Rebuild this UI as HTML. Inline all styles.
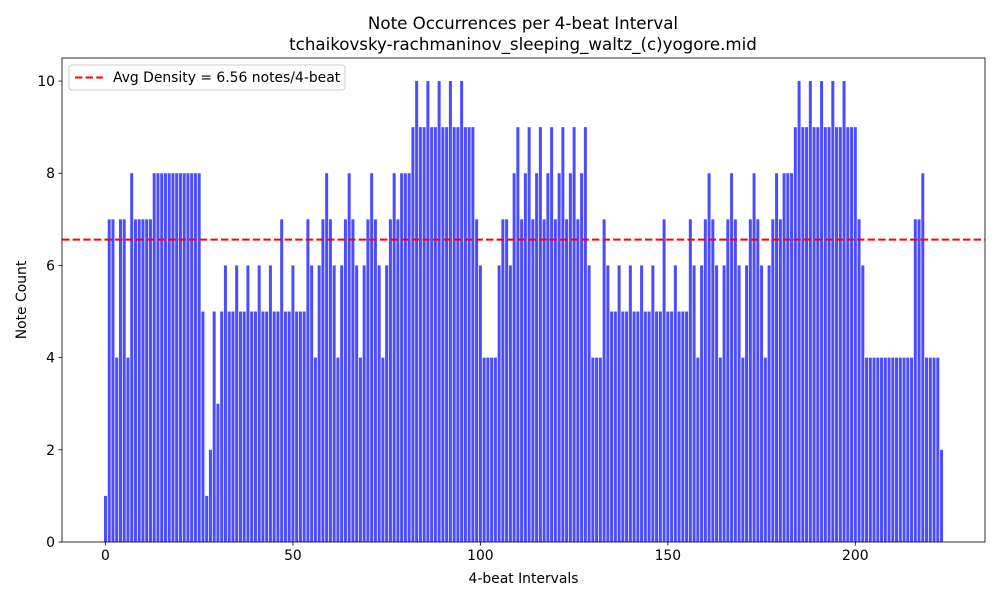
<!DOCTYPE html>
<html><head><meta charset="utf-8"><style>
body{margin:0;background:#fff;font-family:"Liberation Sans","DejaVu Sans",sans-serif}
</style></head><body>
<svg id="chart" width="1000" height="600" xmlns="http://www.w3.org/2000/svg" font-family="DejaVu Sans, Liberation Sans, sans-serif">
<rect width="1000" height="600" fill="#fff"/>
<text x="523" y="29" text-anchor="middle" font-size="16.67">Note Occurrences per 4-beat Interval</text>
<text x="523" y="50" text-anchor="middle" font-size="16.67">tchaikovsky-rachmaninov_sleeping_waltz_(c)yogore.mid</text>
<g id="bars"></g>
<g id="axes"></g>
</svg>
<script>
const counts=[1,7,7,4,7,7,4,8,7,7,7,7,7,8,8,8,8,8,8,8,8,8,8,8,8,8,5,1,2,5,3,5,6,5,5,6,5,5,6,5,5,6,5,5,6,5,5,7,5,5,6,5,5,5,7,6,4,6,7,8,7,6,4,6,7,8,7,6,4,6,7,8,7,6,4,6,7,8,7,8,8,8,9,10,9,9,10,9,9,10,9,9,10,9,9,10,9,9,9,7,6,4,4,4,4,6,7,7,6,8,9,7,8,9,7,8,9,7,8,9,7,8,9,7,8,9,7,8,9,6,4,4,4,7,6,5,5,6,5,5,6,5,5,6,5,5,6,5,5,7,5,5,6,5,5,5,7,6,4,6,7,8,7,6,4,6,7,8,7,6,4,6,7,8,7,6,4,6,7,8,7,8,8,8,9,10,9,9,10,9,9,10,9,9,10,9,9,10,9,9,9,7,6,4,4,4,4,4,4,4,4,4,4,4,4,4,7,7,8,4,4,4,4,2];
const avgDensity=6.56;
const xTicks=[0,50,100,150,200];
const yTicks=[0,2,4,6,8,10];
const NS="http://www.w3.org/2000/svg";
const L=62,R=985,T=58,B=542;
const n=counts.length;
const span=(n-1)+0.8, xmin=-0.4-span*0.05, xmax=(n-1)+0.4+span*0.05;
const ymax=10.5;
const sx=v=>L+(v-xmin)/(xmax-xmin)*(R-L);
const sy=v=>B-v/ymax*(B-T);
function mk(tag,attrs,parent){const e=document.createElementNS(NS,tag);for(const k in attrs)e.setAttribute(k,attrs[k]);parent.appendChild(e);return e;}
const bars=document.getElementById('bars'),axes=document.getElementById('axes');
counts.forEach((c,i)=>{
 const r=mk('rect',{x:sx(i-0.4),y:sy(c),width:sx(0.8)-sx(0),height:sy(0)-sy(c),fill:'#0000ff','fill-opacity':0.7},bars);
 
 
});
const avg=mk('line',{x1:L,x2:R,y1:sy(avgDensity),y2:sy(avgDensity),stroke:'#ff0000','stroke-width':2,'stroke-dasharray':'7.4,3.2'},axes);


const frame=mk('rect',{x:L,y:T,width:R-L,height:B-T,fill:'none',stroke:'#000','stroke-width':0.8},axes);


xTicks.forEach(v=>{
 mk('line',{x1:sx(v),x2:sx(v),y1:B,y2:B+3.5,stroke:'#000','stroke-width':0.8},axes);
 const t=mk('text',{x:sx(v),y:B+18,'text-anchor':'middle','font-size':13.9},axes);t.textContent=v;
 
 
});
yTicks.forEach(v=>{
 mk('line',{x1:L-3.5,x2:L,y1:sy(v),y2:sy(v),stroke:'#000','stroke-width':0.8},axes);
 const t=mk('text',{x:L-7,y:sy(v)+5,'text-anchor':'end','font-size':13.9},axes);t.textContent=v;
 
 
});
const xt=mk('text',{x:(L+R)/2,y:583,'text-anchor':'middle','font-size':13.9},axes);xt.textContent='4-beat Intervals';


const yt=mk('text',{x:26,y:(T+B)/2,'text-anchor':'middle','font-size':13.9,transform:'rotate(-90 26 '+((T+B)/2)+')'},axes);yt.textContent='Note Count';


const lg=mk('g',{},axes);


mk('rect',{x:69,y:65,width:276,height:25,rx:3,fill:'#fff','fill-opacity':0.8,stroke:'#ccc'},lg);
mk('line',{x1:75,x2:103,y1:77.5,y2:77.5,stroke:'#ff0000','stroke-width':2,'stroke-dasharray':'7.4,3.2'},lg);
const lt=mk('text',{x:113,y:82,'font-size':13.9},lg);lt.textContent='Avg Density = '+avgDensity.toFixed(2)+' notes/4-beat';


</script>
</body></html>
